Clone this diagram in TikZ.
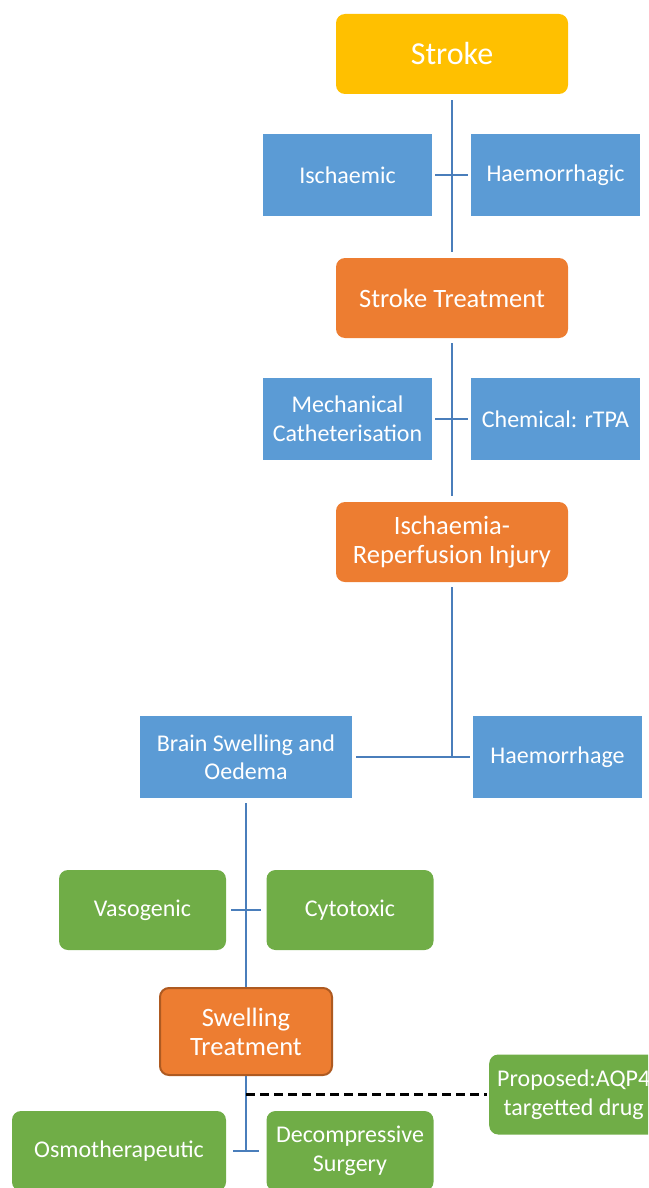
\documentclass[tikz,border=0pt]{standalone}
\usepackage{fontspec}
\setmainfont{Carlito}
\usepackage{tikz}
\usetikzlibrary{positioning}

\definecolor{strokeyellow}{HTML}{FFC000}
\definecolor{boxblue}{HTML}{5B9BD5}
\definecolor{boxorange}{HTML}{ED7D31}
\definecolor{edgeorange}{HTML}{AE5A21}
\definecolor{boxgreen}{HTML}{70AD47}
\definecolor{linkblue}{HTML}{4A7EBB}

\begin{document}
\begin{tikzpicture}[x=1pt,y=-1pt,
  box/.style={rectangle,text=white,align=center,inner sep=0pt,font=\fontsize{24}{28.5}\selectfont},
  bluebox/.style={box,fill=boxblue,minimum width=169pt,minimum height=82pt},
  mainbox/.style={box,rounded corners=9pt,minimum width=232pt,minimum height=80pt,font=\fontsize{26.5}{29}\selectfont},
  greenbox/.style={box,fill=boxgreen,rounded corners=9pt,minimum width=167pt,minimum height=80pt},
  link/.style={draw=linkblue,line width=2.5pt}]
\useasboundingbox (0,0) rectangle (648,1188);
\clip (0,0) rectangle (648,1188);

% top level
\node[mainbox,fill=strokeyellow,font=\fontsize{32}{36}\selectfont] (stroke) at (452,54) {Stroke};
\node[bluebox] (isch) at (347.5,175) {Ischaemic};
\node[bluebox] (haemor) at (555.5,175) {Haemorrhagic};
\node[mainbox,fill=boxorange] (treat) at (452,298) {Stroke Treatment};
\node[bluebox] (mech) at (347.5,419) {Mechanical\\Catheterisation};
\node[bluebox] (chem) at (555.5,419) {Chemical: rTPA};
\node[mainbox,fill=boxorange] (irinj) at (452,542) {Ischaemia-\\Reperfusion Injury};

% swelling branch
\node[bluebox,minimum width=212pt] (swell) at (246,757) {Brain Swelling and\\Oedema};
\node[bluebox] (haemo) at (557.5,757) {Haemorrhage};
\node[greenbox] (vaso) at (142.5,910) {Vasogenic};
\node[greenbox] (cyto) at (350,910) {Cytotoxic};
\node[mainbox,fill=boxorange,draw=edgeorange,line width=2pt,minimum width=172pt,minimum height=87pt] (swtreat) at (246,1031.5) {Swelling\\Treatment};
\node[greenbox,anchor=west,inner xsep=8pt] (aqp) at (489,1094.5) {Proposed:AQP4\\targetted drug};
\node[greenbox,minimum width=214pt] (osmo) at (119,1151) {Osmotherapeutic};
\node[greenbox] (decomp) at (350,1151) {Decompressive\\Surgery};

% connectors
\draw[link,shorten <=6pt,shorten >=6pt] (stroke) -- (treat);
\draw[link,shorten <=3pt,shorten >=3pt] (isch) -- (haemor);
\draw[link,shorten <=5pt,shorten >=6pt] (treat) -- (irinj);
\draw[link,shorten <=3pt,shorten >=3pt] (mech) -- (chem);
\draw[link,shorten <=4pt,shorten >=3pt] (swell) -- (haemo);
\draw[link,shorten <=5pt] (irinj) -- (irinj.south |- haemo.west);
\draw[link,shorten <=5pt] (swell) -- (swtreat);
\draw[link,shorten <=5pt,shorten >=5pt] (vaso) -- (cyto);
\draw[link,shorten <=7pt,shorten >=7pt] (osmo) -- (decomp);
\draw[link] (swtreat.south) -- (swtreat.south |- osmo.east);
\draw[black,line width=2.5pt,dash pattern=on 9pt off 5pt,shorten >=2pt] (swtreat.south |- aqp.west) -- (aqp.west);
\end{tikzpicture}
\end{document}
